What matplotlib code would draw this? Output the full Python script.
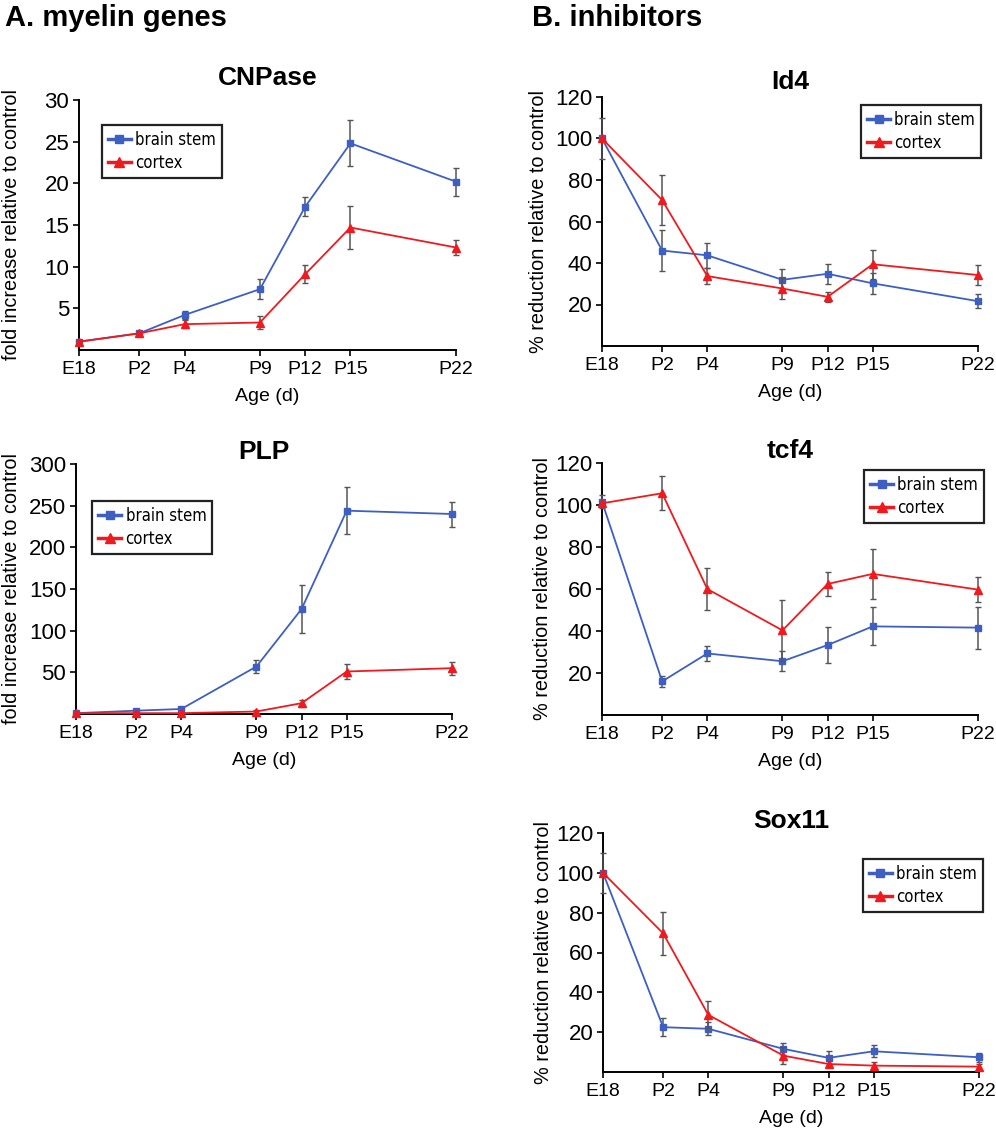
import matplotlib
matplotlib.use("Agg")
import matplotlib.pyplot as plt
from matplotlib.lines import Line2D
from matplotlib import font_manager

plt.rcParams["font.family"] = ["Liberation Sans", "DejaVu Sans"]

W, H = 996, 1130

AGES = ["E18", "P2", "P4", "P9", "P12", "P15", "P22"]
AGE_POS = [0, 4, 7, 12, 15, 18, 25]

# myelin genes: fold increase relative to control
cnp_bs = [1.0, 2.0, 4.2, 7.3, 17.2, 24.8, 20.2]
cnp_bs_err = [0.2, 0.2, 0.5, 1.2, 1.1, 2.75, 1.7]
cnp_cx = [1.0, 2.0, 3.1, 3.3, 9.1, 14.7, 12.3]
cnp_cx_err = [0.2, 0.2, 0.45, 0.8, 1.1, 2.6, 0.9]

plp_bs = [1, 4, 6, 57, 126, 244, 240]
plp_bs_err = [1, 1, 1, 7.5, 29, 28, 15]
plp_cx = [1, 1, 1, 3, 13, 51, 55]
plp_cx_err = [0.5, 0.5, 0.5, 2, 4, 8.5, 8]

# inhibitors: % reduction relative to control
id4_bs = [100, 46, 43.7, 31.9, 34.8, 30.2, 21.6]
id4_bs_err = [10, 10, 6, 5, 4.7, 5, 3.4]
id4_cx = [100, 70.3, 33.7, 27.7, 23.7, 39.4, 34.2]
id4_cx_err = [0, 12, 3.8, 5, 2.3, 7, 4.7]

tcf4_bs = [101.6, 16, 29.3, 25.6, 33.3, 42.2, 41.6]
tcf4_bs_err = [3, 2.8, 3.6, 4.8, 8.6, 9, 10]
tcf4_cx = [100.8, 105.6, 60, 40.3, 62.4, 67.2, 59.7]
tcf4_cx_err = [0, 8, 10, 14.5, 5.8, 11.8, 6]

sox_bs = [100, 22.5, 21.7, 11.6, 7.1, 10.4, 7.4]
sox_bs_err = [10, 4.5, 3.2, 3, 3.6, 3, 2.3]
sox_cx = [100, 69.6, 28.7, 8.2, 4, 3.2, 2.7]
sox_cx_err = [0, 10.7, 6.8, 4.4, 1.5, 2, 1.5]

BLUE = "#3d5fc4"
RED = "#f01a1e"
ERR = "#555555"

# legend text in the original is a narrow face; use one if installed
names = {f.name for f in font_manager.fontManager.ttflist}
narrow = [f for f in font_manager.fontManager.ttflist
          if f.name == "DejaVu Sans" and f.stretch == "condensed"]
if "Liberation Sans Narrow" in names:
    LEG_PROP = {"family": "Liberation Sans Narrow", "size": 14}
elif narrow:
    LEG_PROP = {"family": "DejaVu Sans", "stretch": "condensed", "size": 12}
else:
    LEG_PROP = {"family": "Liberation Sans", "size": 11.5}


def px_axes(fig, left, top, right, bottom):
    return fig.add_axes([left / W, 1 - bottom / H,
                         (right - left) / W, (bottom - top) / H])


def panel(ax, title, bs, bs_err, cx, cx_err, ylim, yticks, ylabel,
          title_pad, label_x, leg_xy):
    ax.errorbar(AGE_POS, bs, yerr=bs_err, color=BLUE, lw=1.3,
                marker="s", ms=5, ecolor=ERR, elinewidth=1.1, capsize=2,
                capthick=1, clip_on=False, zorder=3)
    ax.errorbar(AGE_POS, cx, yerr=cx_err, color=RED, lw=1.3,
                marker="^", ms=6, ecolor=ERR, elinewidth=1.1, capsize=2,
                capthick=1, clip_on=False, zorder=4)
    ax.set_xlim(AGE_POS[0], AGE_POS[-1])
    ax.set_ylim(*ylim)
    ax.set_xticks(AGE_POS)
    ax.set_xticklabels(AGES, fontsize=14)
    ax.set_yticks(yticks)
    ax.tick_params(axis="y", labelsize=16, length=4, width=1.2, pad=3)
    ax.tick_params(axis="x", length=4, width=1.2, pad=4)
    for side in ("top", "right"):
        ax.spines[side].set_visible(False)
    for side in ("left", "bottom"):
        ax.spines[side].set_linewidth(1.4)
    ax.set_title(title, fontsize=19, fontweight="bold", pad=title_pad)
    ax.set_xlabel("Age (d)", fontsize=14, labelpad=7)
    ax.set_ylabel(ylabel, fontsize=14.3)
    ax.yaxis.set_label_coords(label_x, 0.5)

    handles = [
        Line2D([], [], color=BLUE, lw=2.5, marker="s", ms=6),
        Line2D([], [], color=RED, lw=2.5, marker="^", ms=7),
    ]
    leg = ax.legend(handles, ["brain stem", "cortex"], loc="upper left",
                    bbox_to_anchor=leg_xy, borderaxespad=0, prop=LEG_PROP,
                    handlelength=1.4, handletextpad=0.25, labelspacing=0.3,
                    borderpad=0.35, fancybox=False, framealpha=1,
                    edgecolor="#222222")
    leg.get_frame().set_linewidth(1.6)


fig = plt.figure(figsize=(W / 100, H / 100), dpi=100)

fold = "fold increase relative to control"
reduc = "% reduction relative to control"

ax = px_axes(fig, 79, 100, 456, 350)
panel(ax, "CNPase", cnp_bs, cnp_bs_err, cnp_cx, cnp_cx_err, (0, 30),
      [5, 10, 15, 20, 25, 30], fold, 11, -0.154, (0.061, 0.9))

ax = px_axes(fig, 76, 464, 452, 714)
panel(ax, "PLP", plp_bs, plp_bs_err, plp_cx, plp_cx_err, (0, 300),
      [50, 100, 150, 200, 250, 300], fold, 0, -0.146, (0.043, 0.852))

ax = px_axes(fig, 602, 97, 978, 346)
panel(ax, "Id4", id4_bs, id4_bs_err, id4_cx, id4_cx_err, (0, 120),
      [20, 40, 60, 80, 100, 120], reduc, 6, -0.144, (0.689, 0.968))

ax = px_axes(fig, 602, 463, 978, 715)
panel(ax, "tcf4", tcf4_bs, tcf4_bs_err, tcf4_cx, tcf4_cx_err, (0, 120),
      [20, 40, 60, 80, 100, 120], reduc, -2, -0.133, (0.697, 0.972))

ax = px_axes(fig, 603, 833, 979, 1072)
panel(ax, "Sox11", sox_bs, sox_bs_err, sox_cx, sox_cx_err, (0, 120),
      [20, 40, 60, 80, 100, 120], reduc, -3.5, -0.133, (0.691, 0.891))

fig.text(5 / W, 1 - 4 / H, "A. myelin genes", fontsize=21,
         fontweight="bold", va="top", ha="left")
fig.text(532 / W, 1 - 4 / H, "B. inhibitors", fontsize=21,
         fontweight="bold", va="top", ha="left")

fig.savefig("out.png", dpi=100)
